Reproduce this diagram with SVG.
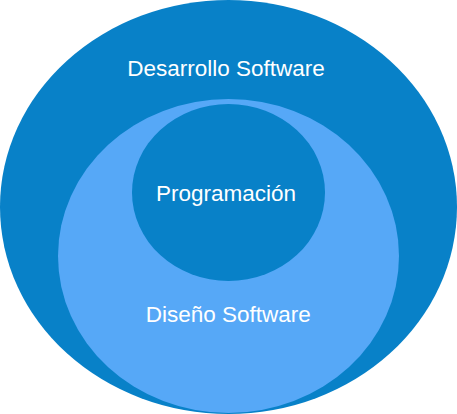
<svg xmlns="http://www.w3.org/2000/svg" width="457" height="414" viewBox="0 0 457 414">
<style>
.lbl{font-family:"Liberation Sans",Arial,sans-serif;font-size:22.5px;fill:#ffffff;text-anchor:middle}
.dark{fill:#0881C8}
.light{fill:#56A8F7}
</style>
<rect width="457" height="414" fill="#ffffff"/>
<g id="desarrollo">
<ellipse class="dark" cx="228.5" cy="207" rx="228.5" ry="207"/>
<text class="lbl" x="226" y="76">Desarrollo Software</text>
</g>
<g id="diseno">
<ellipse class="light" cx="228.5" cy="256" rx="170.5" ry="157"/>
<text class="lbl" x="228.3" y="322">Diseño Software</text>
</g>
<g id="programacion">
<ellipse class="dark" cx="228.5" cy="192.5" rx="96.5" ry="88.5"/>
<text class="lbl" x="226" y="201">Programación</text>
</g>
<g id="connectors"/>
</svg>
